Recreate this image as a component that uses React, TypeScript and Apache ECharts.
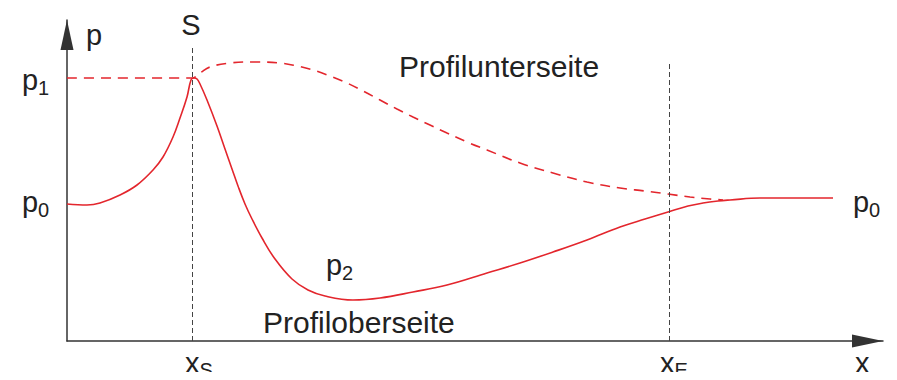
import React, { useEffect, useRef } from "react";
import * as echarts from "echarts";

// Schematic pressure distribution (arbitrary units): x along chord, p pressure
const upperSide: [number, number][] = [
  [0, 137], [20, 136], [33, 138], [53, 146], [70, 156], [86, 171], [96, 184],
  [106, 204], [113, 223], [120, 244], [124, 261], [127, 263], [130, 262],
  [133, 257], [140, 241], [150, 215], [158, 192], [165, 172], [171, 155],
  [178, 137], [185, 122], [195, 103], [208, 82], [225, 62], [241, 51],
  [258, 45], [286, 41], [313, 43], [346, 49], [380, 56], [420, 68], [453, 78],
  [486, 89], [520, 101], [553, 114], [578, 122], [601, 129], [621, 135],
  [636, 138], [651, 140], [663, 141], [693, 143], [766, 143],
];
const lowerSide: [number, number][] = [
  [0, 263], [125, 263], [133, 268], [143, 274], [163, 278], [186, 279],
  [213, 278], [230, 275], [246, 271], [263, 265], [280, 258], [296, 250],
  [313, 241], [330, 232], [346, 224], [363, 216], [380, 208], [400, 199],
  [420, 191], [453, 178], [486, 168], [520, 159], [553, 153], [578, 150],
  [601, 147], [623, 144], [643, 142], [656, 141],
];
const xS = 125;
const xE = 602;
const xSTop = 293;
const xETop = 279;
const xMax = 816;
const yMax = 321;

const RED = "#e3262d";
const INK = "#222222";
const FONT = "'Liberation Sans', Arial, Helvetica, sans-serif";

function txt(text: string, x: number, y: number, size: number, align: string = "left") {
  return {
    type: "text",
    x,
    y,
    style: {
      text,
      align,
      verticalAlign: "middle",
      font: `${size}px ${FONT}`,
      fill: INK,
    },
  };
}

// main letter plus subscript
function sub(main: string, s: string, x: number, y: number, adv: number, dy: number = 8) {
  return {
    type: "group",
    children: [txt(main, x, y, 29), txt(s, x + adv, y + dy, 20)],
  };
}

export default function App() {
  const ref = useRef<HTMLDivElement>(null);
  useEffect(() => {
    if (!ref.current) return;
    const chart = echarts.init(ref.current, null, { renderer: "svg" });
    chart.setOption({
      animation: false,
      grid: { left: 67, right: 14, top: 20, bottom: 39 },
      xAxis: {
        type: "value",
        min: 0,
        max: xMax,
        axisLine: {
          show: true,
          symbol: ["none", "triangle"],
          symbolSize: [13, 31],
          symbolOffset: [0, -15.5],
          lineStyle: { color: "#333", width: 1.5 },
        },
        axisTick: { show: false },
        axisLabel: { show: false },
        splitLine: { show: false },
      },
      yAxis: {
        type: "value",
        min: 0,
        max: yMax,
        axisLine: {
          show: true,
          symbol: ["none", "triangle"],
          symbolSize: [13, 30],
          symbolOffset: [0, -15],
          lineStyle: { color: "#333", width: 1.5 },
        },
        axisTick: { show: false },
        axisLabel: { show: false },
        splitLine: { show: false },
      },
      series: [
        {
          type: "line",
          data: upperSide,
          smooth: 0.4,
          symbol: "none",
          lineStyle: { color: RED, width: 1.6 },
          z: 3,
        },
        {
          type: "line",
          data: lowerSide,
          smooth: 0.4,
          symbol: "none",
          lineStyle: { color: RED, width: 1.6, type: [10, 7] },
          z: 3,
          markLine: {
            silent: true,
            symbol: "none",
            label: { show: false },
            lineStyle: { color: "#444", width: 1, type: [5, 3] },
            data: [
              [{ coord: [xS, 0] }, { coord: [xS, xSTop] }],
              [{ coord: [xE, 0] }, { coord: [xE, xETop] }],
            ],
          },
        },
      ],
      graphic: [
        txt("p", 86, 35, 29),
        txt("S", 191, 25, 29, "center"),
        sub("p", "1", 22, 80, 16),
        sub("p", "0", 22, 202, 16),
        sub("p", "0", 853, 202, 16),
        sub("x", "S", 185, 363, 14.5, 7),
        sub("x", "E", 660, 363, 14.5, 7),
        txt("x", 855, 363, 29),
        txt("Profilunterseite", 399, 66, 30),
        sub("p", "2", 326, 265, 16),
        txt("Profiloberseite", 263, 322, 30),
      ],
    });
    return () => chart.dispose();
  }, []);
  return <div ref={ref} style={{ width: 897, height: 380, margin: -8 }} />;
}
